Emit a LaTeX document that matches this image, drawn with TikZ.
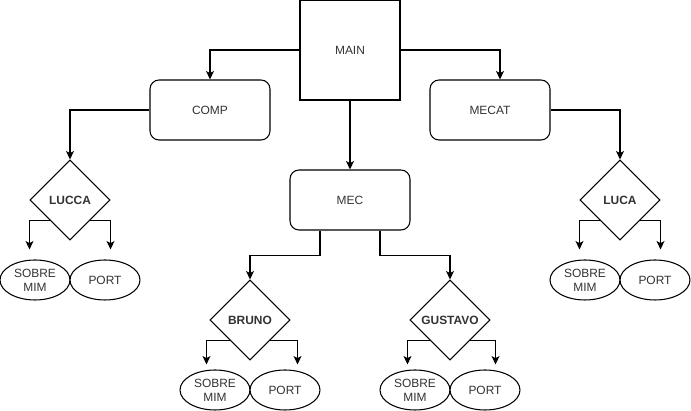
\documentclass[tikz,border=0pt]{standalone}
\usepackage{fontspec}
\setsansfont{Liberation Sans}
\usepackage{tikz}
\usetikzlibrary{positioning,shapes.geometric,arrows.meta,calc}
\definecolor{ink}  {HTML}{000000}
\definecolor{label}{HTML}{333333}
\tikzset{
  every node/.style={font=\sffamily\fontsize{6.8}{7.8}\selectfont, text=label},
  % --- nodes
  box/.style   = {draw=ink, fill=white, align=center, line width=0.6pt, inner sep=0pt,
                  minimum width=2.4cm, minimum height=1.2cm},
  rbox/.style  = {box, rounded corners=0.18cm},
  sqbox/.style = {box, minimum width=2cm, minimum height=2cm},
  dia/.style   = {diamond, draw=ink, fill=white, line width=0.6pt, inner sep=0pt,
                  minimum width=1.6cm, minimum height=1.6cm,
                  font=\sffamily\bfseries\fontsize{6.8}{7.8}\selectfont},
  oval/.style  = {ellipse, draw=ink, fill=white, line width=0.6pt, inner sep=0pt,
                  minimum width=1.4cm, minimum height=0.8cm, align=center},
  % --- edges
  e/.style     = {-{Stealth[length=4.8pt,width=4.5pt,inset=1.2pt]}, line width=0.6pt, draw=ink},
}

\begin{document}
\begin{tikzpicture}[x=0.02cm, y=-0.02cm]
  \useasboundingbox (0,0) rectangle (691,411);

  \node[sqbox] (main) at (350,50) {MAIN};
  \node[rbox] (comp) at (210,110) {COMP};
  \node[rbox] (mecat) at (490,110) {MECAT};
  \node[rbox] (mec) at (350,200) {MEC};

  \node[dia] (lucca) at (70,200) {LUCCA};
  \node[dia] (luca) at (620,200) {LUCA};
  \node[dia] (bruno) at (250,320) {BRUNO};
  \node[dia] (gustavo) at (450,320) {GUSTAVO};

  \node[oval] (lsobre) at (35,280) {SOBRE\\MIM};
  \node[oval] (lport) at (105,280) {PORT};
  \node[oval] (rsobre) at (585,280) {SOBRE\\MIM};
  \node[oval] (rport) at (655,280) {PORT};
  \node[oval] (bsobre) at (215,390) {SOBRE\\MIM};
  \node[oval] (bport) at (285,390) {PORT};
  \node[oval] (gsobre) at (415,390) {SOBRE\\MIM};
  \node[oval] (gport) at (485,390) {PORT};

  \draw[e] (main.west) -| (comp.north);
  \draw[e] (main.east) -| ([xshift=0.2cm]mecat.north);
  \draw[e] (main.south) -- (mec.north);
  \draw[e] (comp.west) -| (lucca.north);
  \draw[e] (mecat.east) -| (luca.north);
  \draw[e] ([xshift=-0.6cm]mec.south) -- ++(0,25) -| (bruno.north);
  \draw[e] ([xshift=0.6cm]mec.south) -- ++(0,25) -| (gustavo.north);

  \draw[e, shorten >=0.2cm] (lucca.south west) -| (lucca.west |- lsobre.north);
  \draw[e, shorten >=0.2cm] (lucca.south east) -| (lucca.east |- lport.north);
  \draw[e, shorten >=0.2cm] (luca.south west) -| (luca.west |- rsobre.north);
  \draw[e, shorten >=0.2cm] (luca.south east) -| (luca.east |- rport.north);
  \draw[e, shorten >=0.1cm] (bruno.south west) -| ([xshift=-0.06cm]bruno.west |- bsobre.north);
  \draw[e, shorten >=0.1cm] (bruno.south east) -| ([xshift=0.14cm]bruno.east |- bport.north);
  \draw[e, shorten >=0.1cm] (gustavo.south west) -| ([xshift=-0.04cm]gustavo.west |- gsobre.north);
  \draw[e, shorten >=0.1cm] (gustavo.south east) -| ([xshift=0.1cm]gustavo.east |- gport.north);
\end{tikzpicture}
\end{document}
